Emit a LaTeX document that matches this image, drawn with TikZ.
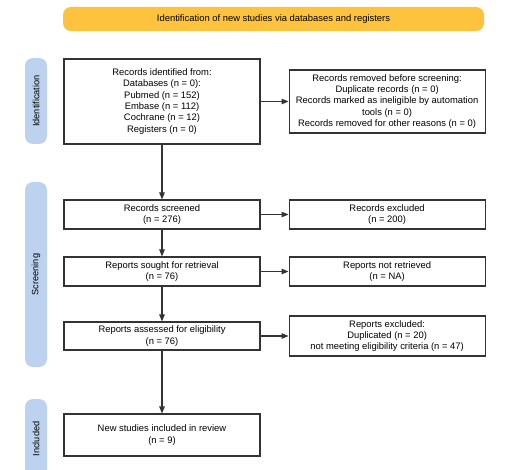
\documentclass[tikz,border=0pt]{standalone}
\usepackage{fontspec}
\setmainfont{Liberation Sans}
\usetikzlibrary{positioning,arrows.meta}
\definecolor{prismaorange}{HTML}{FEC33E}
\definecolor{prismablue}{HTML}{BCD2EE}
\definecolor{prismaline}{HTML}{333333}
\begin{document}
\begin{tikzpicture}[
	x=1pt, y=-1pt,
	box/.style={rectangle, draw=prismaline, line width=1.1pt, fill=white, minimum width=196pt, inner sep=2pt, align=center, font=\fontsize{9.4}{11.3}\selectfont},
	phase/.style={rectangle, rounded corners=8pt, fill=prismablue, minimum height=22pt, rotate=90, font=\fontsize{9.2}{10}\selectfont},
	banner/.style={rectangle, rounded corners=8pt, fill=prismaorange, minimum width=421pt, minimum height=24pt, font=\fontsize{9.4}{10}\selectfont},
	arrow/.style={draw=prismaline, line width=1.1pt, -{Triangle[length=7pt,width=5.5pt]}},
	node distance=28pt,
	]
	\clip (0,0) rectangle (529,470);
	
	%Header and phases
	\node[banner] (head) at (273.5,19) {Identification of new studies via databases and registers};
	\node[phase, minimum width=86pt] (identphase) at (36,101) {Identification};
	\node[phase, minimum width=185pt] (screenphase) at (36,274.5) {Screening};
	\node[phase, minimum width=80pt] (inclphase) at (36,439) {Included};
	
	%Nodes
	\node[box, minimum height=85pt]	(ident)		at (162,101.5)	{Records identified from:\\Databases (n = 0):\\Pubmed (n = 152)\\Embase (n = 112)\\Cochrane (n = 12)\\Registers (n = 0)};
	\node[box, minimum height=63pt]	(removed)	[right=of ident]	{Records removed before screening:\\Duplicate records (n = 0)\\Records marked as ineligible by automation\\tools (n = 0)\\Records removed for other reasons (n = 0)};
	\node[box, minimum height=29pt]	(screened)	at (162,214.5)	{Records screened\\(n = 276)};
	\node[box, minimum height=29pt]	(excluded)	[right=of screened]	{Records excluded\\(n = 200)};
	\node[box, minimum height=29pt]	(sought)	at (162,271.5)	{Reports sought for retrieval\\(n = 76)};
	\node[box, minimum height=29pt]	(notretr)	[right=of sought]	{Reports not retrieved\\(n = NA)};
	\node[box, minimum height=28pt]	(assessed)	at (162,336)	{Reports assessed for eligibility\\(n = 76)};
	\node[box, minimum height=40pt]	(repexcl)	[right=of assessed]	{Reports excluded:\\Duplicated (n = 20)\\not meeting eligibility criteria (n = 47)};
	\node[box, minimum height=42pt]	(included)	at (162,435)	{New studies included in review\\(n = 9)};
	
	%Lines
	\draw[arrow] (ident.east) -- (removed.west);
	\draw[arrow] (ident.south) -- (screened.north);
	\draw[arrow] (screened.east) -- (excluded.west);
	\draw[arrow] (screened.south) -- (sought.north);
	\draw[arrow] (sought.east) -- (notretr.west);
	\draw[arrow] (sought.south) -- (assessed.north);
	\draw[arrow] (assessed.east) -- (repexcl.west);
	\draw[arrow] (assessed.south) -- (included.north);
	
\end{tikzpicture}
\end{document}
